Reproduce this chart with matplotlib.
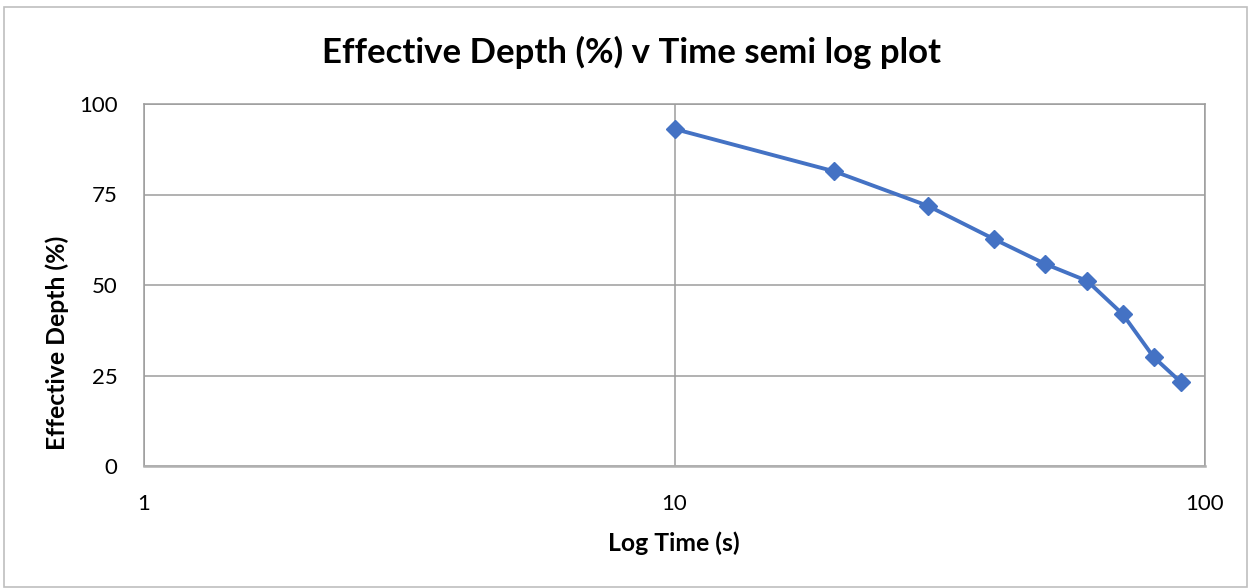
import matplotlib.pyplot as plt
from matplotlib.patches import Rectangle
from matplotlib.ticker import FixedLocator, NullLocator, FixedFormatter

# time (s) and effective depth (%)
time_s = [10, 20, 30, 40, 50, 60, 70, 80, 90]
depth_pct = [93.1, 81.4, 71.9, 62.7, 55.8, 51.1, 41.9, 30.1, 23.2]

x_ticks = [1, 10, 100]
x_labels = ['1', '10', '100']
y_ticks = [0, 25, 50, 75, 100]

plt.rcParams['font.family'] = ['Lato', 'DejaVu Sans']

fig = plt.figure(figsize=(12.51, 5.88), dpi=100)
ax = fig.add_axes([144 / 1251, 1 - 466 / 588, (1205 - 144) / 1251, (466 - 104) / 588])

ax.plot(time_s, depth_pct, color='#4472C4', linewidth=2.8, marker='D', markersize=9.5, zorder=3)

ax.set_xscale('log')
ax.set_xlim(1, 100)
ax.set_ylim(0, 100)
ax.xaxis.set_major_locator(FixedLocator(x_ticks))
ax.xaxis.set_major_formatter(FixedFormatter(x_labels))
ax.xaxis.set_minor_locator(NullLocator())
ax.set_yticks(y_ticks)

ax.grid(True, color='#9c9c9c', linewidth=1.1)
ax.set_axisbelow(True)
for s in ax.spines.values():
    s.set_color('#9c9c9c')
    s.set_linewidth(1.1)
ax.spines['bottom'].set_color('#b0b0b0')
ax.spines['bottom'].set_linewidth(1.8)
ax.tick_params(length=0, labelsize=16, colors='#000000')
ax.tick_params(axis='y', pad=19)
ax.tick_params(axis='x', pad=20)

fig.text(674 / 1251, 1 - 543 / 588, 'Log Time (s)', ha='center', va='center',
         fontsize=17.8, fontweight='bold')
fig.text(57 / 1251, 1 - 343 / 588, 'Effective Depth (%)', ha='center', va='center',
         rotation=90, fontsize=17.8, fontweight='bold')
fig.text(631 / 1251, 1 - 52 / 588, 'Effective Depth (%) v Time semi log plot',
         ha='center', va='center', fontsize=25, fontweight='bold')

# outer chart border
fig.patches.append(Rectangle((4 / 1251, 0.002), 1 - 8 / 1251, 1 - 8 / 588, transform=fig.transFigure,
                             fill=False, edgecolor='#bfbfbf', linewidth=1.2))

fig.savefig('out.png', dpi=100)
